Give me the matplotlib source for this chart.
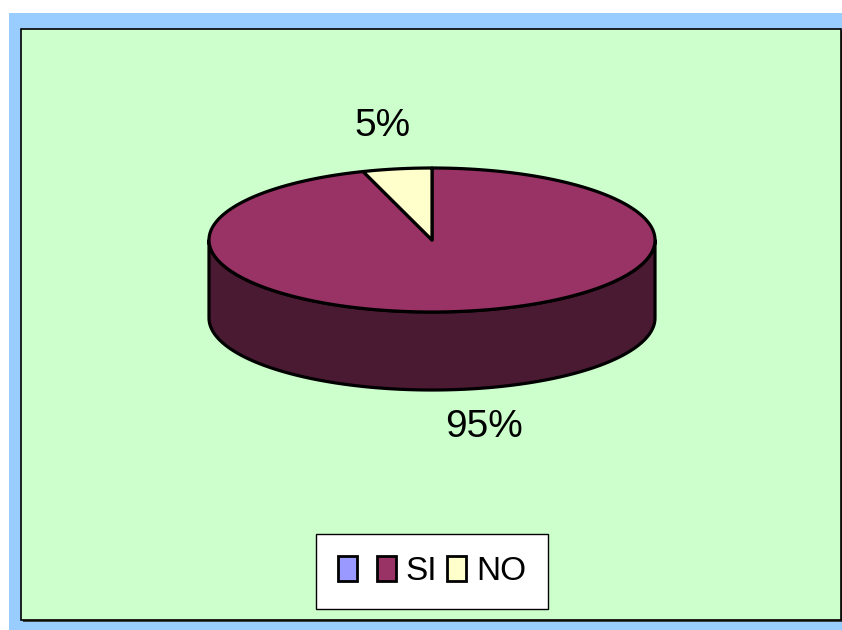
import numpy as np
import matplotlib
matplotlib.use("Agg")
import matplotlib.pyplot as plt
from matplotlib.patches import Polygon, Rectangle, Patch

plt.rcParams['font.family'] = ['Liberation Sans', 'DejaVu Sans']

# Data
categories = ["SI", "NO"]
values = [95, 5]
labels = ["95%", "5%"]
legend_labels = ["", "SI", "NO"]

top_colors = ["#993366", "#FFFFCC"]
side_colors = ["#4A1A33", "#7F7F66"]
legend_colors = ["#9999FF", "#993366", "#FFFFCC"]

W, H = 842, 630
fig = plt.figure(figsize=(W / 100, H / 100), dpi=100)
fig.patch.set_facecolor("white")
ax = fig.add_axes([0, 0, 1, 1])
ax.set_xlim(0, W)
ax.set_ylim(H, 0)
ax.axis("off")

# Frame: blue chart area and green plot area
ax.add_patch(Rectangle((9, 13), W - 9, H - 13, facecolor="#99CCFF", edgecolor="none", zorder=0))
ax.add_patch(Rectangle((23, 31), 822, 591, facecolor="#404040", edgecolor="none", zorder=1))
ax.add_patch(Rectangle((21, 29), 820, 591, facecolor="#CCFFCC", edgecolor="black", linewidth=1.2, zorder=2))

# 3D pie geometry
cx, cy = 432, 240
a, b = 223, 72
depth = 78
lw = 2.3


def pt(theta_deg, dy=0.0):
    t = np.radians(theta_deg)
    return cx + a * np.cos(t), cy - b * np.sin(t) + dy


# slices go clockwise from 12 o'clock
fracs = np.array(values, dtype=float) / sum(values)
ang = 90.0
spans = []
for f in fracs:
    end = ang - 360 * f
    spans.append((end, ang))
    ang = end

# Side walls (front half only: 180..360 degrees)
for (t0, t1), col in zip(spans, side_colors):
    for shift in (0, 360, -360):
        lo, hi = max(t0 + shift, 180), min(t1 + shift, 360)
        if hi > lo:
            th = np.linspace(lo, hi, 200)
            xs_top, ys_top = pt(th)
            xs_bot, ys_bot = pt(th[::-1], depth)
            poly = np.column_stack([np.concatenate([xs_top, xs_bot]),
                                    np.concatenate([ys_top, ys_bot])])
            ax.add_patch(Polygon(poly, closed=True, facecolor=col, edgecolor="black",
                                 linewidth=lw, joinstyle="round", zorder=3))

# Top faces
for (t0, t1), col in zip(spans, top_colors):
    th = np.linspace(t0, t1, 400)
    xs, ys = pt(th)
    poly = np.column_stack([np.concatenate([[cx], xs]), np.concatenate([[cy], ys])])
    ax.add_patch(Polygon(poly, closed=True, facecolor=col, edgecolor="black",
                         linewidth=lw, joinstyle="round", zorder=4))

# Percentage labels
ax.text(484, 427, labels[0], fontsize=28, ha="center", va="center", color="black", zorder=5)
ax.text(383, 126, labels[1], fontsize=28, ha="center", va="center", color="black", zorder=5)

# Legend
handles = [Patch(facecolor=c, edgecolor="black", linewidth=2.0) for c in legend_colors]
leg = ax.legend(handles, legend_labels, ncol=3, loc="center",
                bbox_to_anchor=(432, 571.5), bbox_transform=ax.transData,
                fontsize=24, frameon=True, fancybox=False, shadow=False,
                handlelength=0.57, handleheight=0.75, handletextpad=0.3,
                columnspacing=0.3, borderpad=0.65, borderaxespad=0)
leg.get_frame().set_edgecolor("black")
leg.get_frame().set_linewidth(1.0)
leg.get_frame().set_facecolor("white")
leg.get_frame().set_alpha(1)
leg.set_zorder(6)

fig.savefig("out.png", dpi=100, facecolor=fig.get_facecolor())
